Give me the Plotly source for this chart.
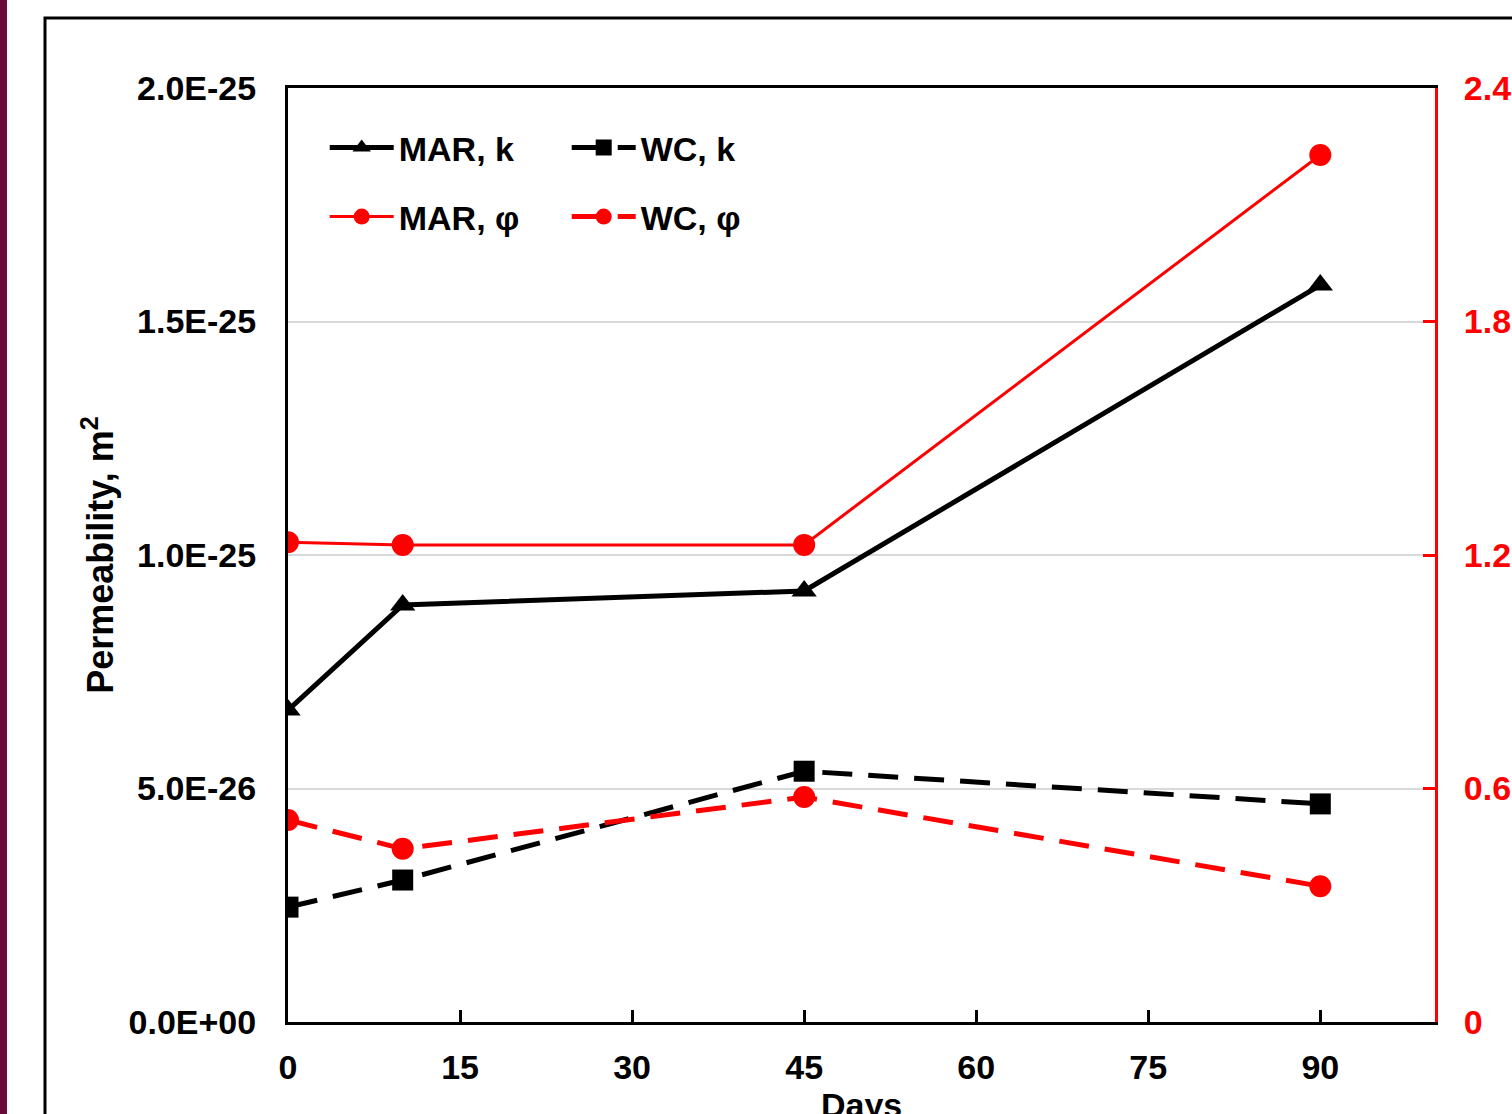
import plotly.graph_objects as go

days = [0, 10, 45, 90]
mar_k = [6.68e-26, 8.93e-26, 9.23e-26, 1.578e-25]
wc_k = [2.46e-26, 3.04e-26, 5.37e-26, 4.67e-26]
mar_phi = [1.233, 1.226, 1.226, 2.228]
wc_phi = [0.519, 0.445, 0.578, 0.349]

left_tickvals = [0, 5e-26, 1e-25, 1.5e-25, 2e-25]
left_ticktext = ["0.0E+00", "5.0E-26", "1.0E-25", "1.5E-25", "2.0E-25"]
right_tickvals = [0, 0.6, 1.2, 1.8, 2.4]
right_ticktext = ["0", "0.6", "1.2", "1.8", "2.4"]
x_tickvals = [0, 15, 30, 45, 60, 75, 90]
x_title = "Days"

FONT = "Liberation Sans, Arial, sans-serif"
RED = "#ff0000"

fig = go.Figure()
fig.add_trace(go.Scatter(x=days, y=mar_k, name="MAR, k", mode="lines+markers",
                         line=dict(color="black", width=5),
                         marker=dict(symbol="triangle-up", size=22, color="black"),
                         legend="legend"))
fig.add_trace(go.Scatter(x=days, y=wc_k, name="WC, k", mode="lines+markers",
                         line=dict(color="black", width=5, dash="30px,16px"),
                         marker=dict(symbol="square", size=21, color="black"),
                         legend="legend"))
fig.add_trace(go.Scatter(x=days, y=mar_phi, name="MAR, φ", mode="lines+markers",
                         line=dict(color=RED, width=3),
                         marker=dict(symbol="circle", size=22, color=RED),
                         yaxis="y2", legend="legend2"))
fig.add_trace(go.Scatter(x=days, y=wc_phi, name="WC, φ", mode="lines+markers",
                         line=dict(color=RED, width=5, dash="30px,16px"),
                         marker=dict(symbol="circle", size=22, color=RED),
                         yaxis="y2", legend="legend2"))

legend_common = dict(orientation="h", xanchor="left", yanchor="middle",
                     font=dict(family=FONT, size=34, color="black", weight="bold"),
                     bgcolor="rgba(0,0,0,0)", itemwidth=64, entrywidth=163,
                     itemclick=False, itemdoubleclick=False)

def px_x(p):
    return (p - 288) / 1147

def px_y(p):
    return (1022 - p) / 934

# plot area spans page x 288..1435, y 88..1022 (body margin removed below)
fig.update_layout(
    width=1512, height=1114,
    margin=dict(l=288, r=77, t=88, b=92),
    paper_bgcolor="white", plot_bgcolor="white",
    font=dict(family=FONT, size=33, color="black", weight="bold"),
    showlegend=True,
    legend=dict(x=0.032, y=px_y(148), **legend_common),
    legend2=dict(x=0.032, y=px_y(217), **legend_common),
    xaxis=dict(range=[0, 100], tickvals=x_tickvals, ticks="inside", ticklen=12,
               tickwidth=3, tickcolor="black", showline=True, linecolor="black",
               linewidth=3, mirror=True, showgrid=False, zeroline=False,
               automargin=False,
               tickfont=dict(family=FONT, size=34, color="black", weight="bold"),
               ticklabelstandoff=13),
    yaxis=dict(range=[0, 2e-25], tickvals=left_tickvals, ticktext=left_ticktext,
               ticks="", showline=True, linecolor="black", linewidth=3,
               showgrid=True, gridcolor="#d9d9d9", gridwidth=2, zeroline=False,
               automargin=False,
               tickfont=dict(family=FONT, size=34, color="black", weight="bold"),
               ticklabelstandoff=22,
               title=dict(text="Permeability, m<sup>2</sup>", standoff=4,
                          font=dict(family=FONT, size=36, color="black", weight="bold"))),
    yaxis2=dict(range=[0, 2.4], overlaying="y", side="right", tickvals=right_tickvals,
                ticktext=right_ticktext, ticks="inside", ticklen=12, tickwidth=3,
                tickcolor=RED, showline=True, linecolor=RED, linewidth=3,
                showgrid=False, zeroline=False, automargin=False,
                tickfont=dict(family=FONT, size=34, color=RED, weight="bold"),
                ticklabelstandoff=19),
)

# x-axis title (partly cut by the bottom edge, as in the reference)
fig.add_annotation(text=x_title, xref="paper", yref="paper", x=0.5, y=px_y(1084),
                   xanchor="center", yanchor="top", showarrow=False,
                   font=dict(family=FONT, size=34, color="black", weight="bold"))

# outer chart border (only top and left edges visible)
fig.add_shape(type="rect", xref="paper", yref="paper",
              x0=px_x(45), x1=px_x(1700), y0=px_y(1300), y1=px_y(18),
              line=dict(color="black", width=3), fillcolor="rgba(0,0,0,0)", layer="below")
# maroon strip at left edge
fig.add_shape(type="rect", xref="paper", yref="paper",
              x0=px_x(-5), x1=px_x(7), y0=px_y(1200), y1=px_y(-50),
              line=dict(width=0), fillcolor="#6a0a38", layer="below")

fig.write_html("out.html", config={"displayModeBar": False},
               post_script="document.body.style.margin='0';document.body.style.padding='0';")
